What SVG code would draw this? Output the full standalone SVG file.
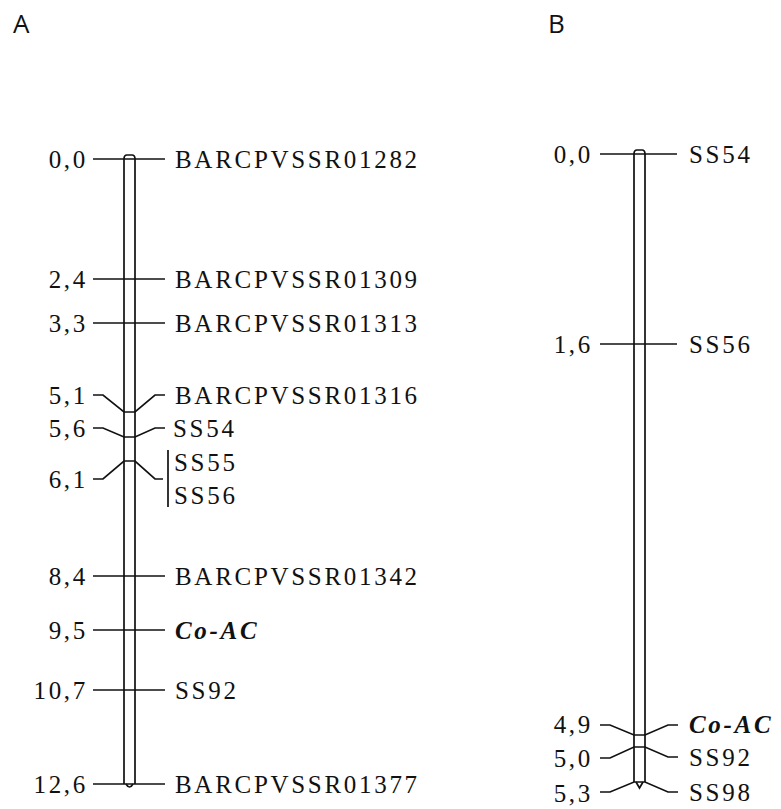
<svg xmlns="http://www.w3.org/2000/svg" width="781" height="809" viewBox="0 0 781 809">
<style>
.t{font-family:"Liberation Serif","Times New Roman",serif;font-size:25px;letter-spacing:2.7px;fill:#111}
.n{text-anchor:end}
.b{font-weight:bold;font-style:italic}
.p{font-family:"Open Sans","DejaVu Sans",sans-serif;font-size:26px;fill:#111}
.l{fill:none;stroke:#111;stroke-width:1.7}
</style>
<rect width="781" height="809" fill="#fff"/>
<text class="p" x="13" y="33">A</text>
<text class="p" x="548" y="33">B</text>

<g id="chromA">
<path class="l" d="M124,784 V159 Q124,155 127,155 H132 Q135,155 135,159 V784 M126,784 Q129.5,790 133,784"/>
</g>
<g id="chromB">
<path class="l" d="M634,782 V154 Q634,150 637,150 H642 Q645,150 645,154 V782 M636,782 L639.5,788 L643,782"/>
</g>

<g id="connectors">
<line class="l" x1="93" y1="159" x2="165" y2="159"/>
<line class="l" x1="93" y1="279" x2="165" y2="279"/>
<line class="l" x1="93" y1="323" x2="165" y2="323"/>
<polyline class="l" points="93,395 103,395 124,412 135,412 155,395 165,395"/>
<polyline class="l" points="93,428 103,428 124,437 135,437 155,428 165,428"/>
<polyline class="l" points="93,479 103,479 124,461 135,461 155,479 163,479"/>
<line class="l" x1="168" y1="450" x2="168" y2="507"/>
<line class="l" x1="93" y1="576" x2="165" y2="576"/>
<line class="l" x1="93" y1="630" x2="165" y2="630"/>
<line class="l" x1="93" y1="690" x2="165" y2="690"/>
<line class="l" x1="93" y1="784" x2="165" y2="784"/>

<line class="l" x1="600" y1="154" x2="677" y2="154"/>
<line class="l" x1="600" y1="344" x2="677" y2="344"/>
<polyline class="l" points="600,725 610,725 634,735 645,735 668,725 678,725"/>
<polyline class="l" points="600,758 610,758 634,747 645,747 668,757 678,757"/>
<polyline class="l" points="600,792 610,792 634,782 645,782 668,792 678,792"/>
</g>

<g id="labelsA">
<text class="t n" x="88" y="168">0,0</text>
<text class="t n" x="88" y="288">2,4</text>
<text class="t n" x="88" y="332">3,3</text>
<text class="t n" x="88" y="404">5,1</text>
<text class="t n" x="88" y="437">5,6</text>
<text class="t n" x="88" y="488">6,1</text>
<text class="t n" x="88" y="585">8,4</text>
<text class="t n" x="88" y="639">9,5</text>
<text class="t n" x="88" y="699">10,7</text>
<text class="t n" x="88" y="793">12,6</text>
<text class="t" x="175" y="168">BARCPVSSR01282</text>
<text class="t" x="175" y="288">BARCPVSSR01309</text>
<text class="t" x="175" y="332">BARCPVSSR01313</text>
<text class="t" x="175" y="404">BARCPVSSR01316</text>
<text class="t" x="173" y="437">SS54</text>
<text class="t" x="174" y="471">SS55</text>
<text class="t" x="174" y="504">SS56</text>
<text class="t" x="175" y="585">BARCPVSSR01342</text>
<text class="t b" x="175" y="639">Co-AC</text>
<text class="t" x="175" y="699">SS92</text>
<text class="t" x="175" y="793">BARCPVSSR01377</text>
</g>

<g id="labelsB">
<text class="t n" x="593" y="163">0,0</text>
<text class="t n" x="593" y="353">1,6</text>
<text class="t n" x="593" y="733">4,9</text>
<text class="t n" x="593" y="767">5,0</text>
<text class="t n" x="593" y="802">5,3</text>
<text class="t" x="689" y="163">SS54</text>
<text class="t" x="689" y="353">SS56</text>
<text class="t b" x="689" y="733">Co-AC</text>
<text class="t" x="689" y="766">SS92</text>
<text class="t" x="689" y="801">SS98</text>
</g>
</svg>
